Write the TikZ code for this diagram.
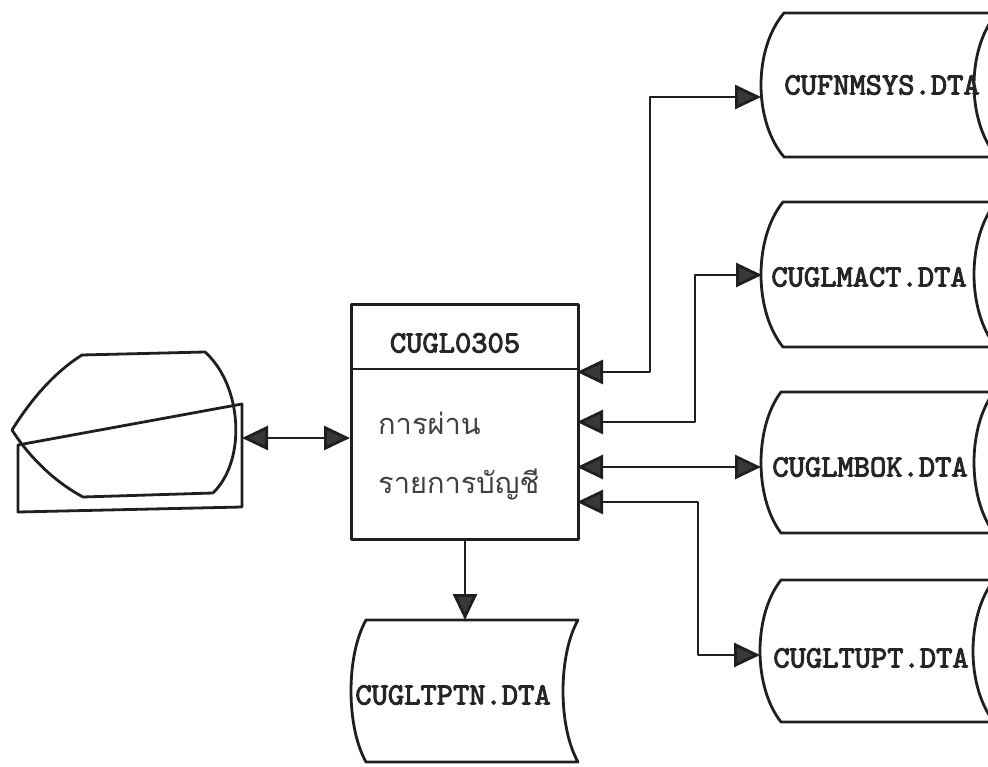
\documentclass[tikz,border=0pt]{standalone}
\usepackage{fontspec}
\newfontfamily\thaifont[Script=Thai]{Loma}
\newfontfamily\monob[FakeBold=3]{lmmono10-regular.otf}
\usetikzlibrary{arrows.meta}
\tikzset{
  ln/.style={line width=2.8pt, color=black!88, line join=round},
  oneway/.style={ln, -{Triangle[length=26pt,width=24pt,fill=black!78]}},
  twoway/.style={ln, {Triangle[length=26pt,width=24pt,fill=black!78]}-{Triangle[length=26pt,width=24pt,fill=black!78]}},
  fname/.style={font=\monob\fontsize{31}{33}\selectfont, text=black!85, inner sep=0pt},
  thaitxt/.style={font=\thaifont\fontsize{29}{34}\selectfont, text=black!75, anchor=west, inner sep=0pt},
}
\newcommand{\datastore}[5]{% #1 left corner x, #2 top, #3 bottom, #4 bulge, #5 width
  \draw[ln] (#1,#2) -- ({#1+#5},#2)
    .. controls ({#1+#5-1.333*#4},{#2+0.25*(#3-#2)}) and ({#1+#5-1.333*#4},{#3-0.25*(#3-#2)}) .. ({#1+#5},#3)
    -- (#1,#3)
    .. controls ({#1-1.333*#4},{#3-0.25*(#3-#2)}) and ({#1-1.333*#4},{#2+0.25*(#3-#2)}) .. (#1,#2) -- cycle;}
\begin{document}
\begin{tikzpicture}[x=1pt,y=-1pt]
\useasboundingbox (0,0) rectangle (988,767);
\clip (0,0) rectangle (988,767);

% terminal (display + keyboard)
\draw[ln] (12,430) .. controls (32,398) and (55,372) .. (82,355) -- (205,352)
  .. controls (242,385) and (247,460) .. (213,493) -- (83,497)
  .. controls (55,482) and (30,458) .. (12,430) -- cycle;
\draw[ln] (18,445) -- (242,404) -- (242,507) -- (18,512) -- cycle;
\coordinate (termR) at (242,438);

% main process box
\node[ln, draw, minimum width=227pt, minimum height=235pt, anchor=north west, inner sep=0pt] (box) at (350,303) {};
\draw[ln] (350,369) -- (577,369);
\node[fname] (title) at (455,343) {CUGL0305};
\node[thaitxt] (thai1) at (378,423) {การผ่าน};
\node[thaitxt] (thai2) at (378,485) {รายการบัญชี};

% data stores
\datastore{784}{13}{157}{23}{213}
\node[fname] (fn) at (882,85) {CUFNMSYS.DTA};
\datastore{783}{202}{347}{22}{213}
\node[fname] (mact) at (869,277) {CUGLMACT.DTA};
\datastore{781}{392}{533}{20}{213}
\node[fname] (mbok) at (870,467) {CUGLMBOK.DTA};
\datastore{781}{580}{722}{21}{213}
\node[fname] (tupt) at (871,658) {CUGLTUPT.DTA};
\datastore{366}{620}{762}{15}{212}
\node[fname] (tptn) at (453,695) {CUGLTPTN.DTA};

% connector end points
\coordinate (b1) at (577,372);
\coordinate (b2) at (577,422);
\coordinate (b3) at (577,467);
\coordinate (b4) at (577,502);
\coordinate (s1) at (761,97);
\coordinate (s2) at (762,275);
\coordinate (s3) at (761,467);
\coordinate (s4) at (760,655);
\coordinate (bb) at (465,538);
\coordinate (s5) at (465,620);

% connectors
\draw[twoway] (termR) -- (termR -| box.west);
\draw[twoway] (b1) -| (650,97) -- (s1);
\draw[twoway] (b2) -| (695,275) -- (s2);
\draw[twoway] (b3) -- (s3);
\draw[twoway] (b4) -| (698,655) -- (s4);
\draw[oneway] (bb) -- (s5);
\end{tikzpicture}
\end{document}
